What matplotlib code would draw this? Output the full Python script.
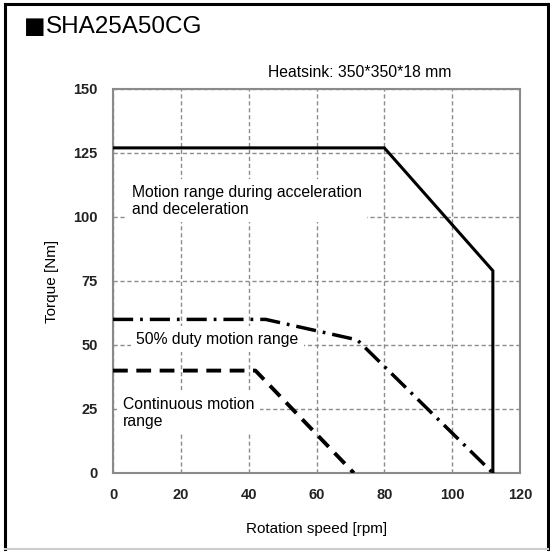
import matplotlib
matplotlib.use("Agg")
import matplotlib.pyplot as plt
from matplotlib.lines import Line2D

plt.rcParams['font.family'] = ['Liberation Sans', 'DejaVu Sans']

# 曲线数据 (rpm, Nm)
accel_speed = [0, 80, 112, 112]
accel_torque = [127, 127, 79, 0]

duty50_speed = [0, 45, 72, 112]
duty50_torque = [60, 60, 52, 0]

cont_speed = [0, 42, 71]
cont_torque = [40, 40, 0]

x_ticks = [0, 20, 40, 60, 80, 100, 120]
y_ticks = [0, 25, 50, 75, 100, 125, 150]

W, H = 550, 552
fig = plt.figure(figsize=(W / 100, H / 100), dpi=100)
ax = fig.add_axes([113 / W, 1 - 473 / H, (520 - 113) / W, (473 - 89) / H])

# 网格
ax.set_xticks(x_ticks)
ax.set_yticks(y_ticks)
ax.grid(True, color='#8c8c8c', linestyle=(0, (3, 2)), linewidth=1.0, zorder=1)
ax.set_axisbelow(True)

# 曲线
ax.plot(accel_speed, accel_torque, color='black', linewidth=2.2,
        solid_joinstyle='miter', zorder=4)
ax.plot(duty50_speed, duty50_torque, color='black', linewidth=2.5,
        linestyle=(0, (5.8, 2.0, 0.8, 2.0)), zorder=4)
ax.plot(cont_speed, cont_torque, color='black', linewidth=2.8,
        linestyle=(0, (3.8, 2.2)), zorder=4)

ax.set_xlim(0, 120)
ax.set_ylim(0, 150)

for s in ax.spines.values():
    s.set_color('#8a8a8a')
    s.set_linewidth(1.5)

ax.tick_params(length=0, pad=11, labelsize=10.5)
for lab in ax.get_xticklabels() + ax.get_yticklabels():
    lab.set_fontweight('bold')
    lab.set_color('#222222')

ax.set_xlabel('Rotation speed [rpm]', fontsize=11, labelpad=14)
ax.set_ylabel('Torque [Nm]', fontsize=11, labelpad=10)

box = dict(facecolor='white', edgecolor='none', pad=4)
ax.text(5.6, 106.3, 'Motion range during acceleration\nand deceleration',
        fontsize=11.3, va='center', ha='left', linespacing=1.15, bbox=box, zorder=3)
ax.text(6.8, 52.3, '50% duty motion range', fontsize=11.3,
        va='center', ha='left', bbox=box, zorder=3)
ax.text(2.9, 23.4, 'Continuous motion\nrange', fontsize=11.3,
        va='center', ha='left', linespacing=1.15, bbox=box, zorder=3)

# 标题
fig.text(24 / W, 1 - 33 / H, '■', fontsize=16.5, va='baseline', ha='left',
         family='DejaVu Sans')
fig.text(46 / W, 1 - 33 / H, 'SHA25A50CG', fontsize=17.5, va='baseline', ha='left')
fig.text(268 / W, 1 - 77 / H, 'Heatsink: 350*350*18 mm', fontsize=11.3,
         va='baseline', ha='left')

# 外框
fx = lambda p: p / W
fy = lambda p: 1 - p / H
fig.add_artist(Line2D([fx(5), fx(5)], [fy(4), fy(549)], color='black', lw=2.2))
fig.add_artist(Line2D([fx(5), fx(548)], [fy(4), fy(4)], color='black', lw=2.2))
fig.add_artist(Line2D([fx(548), fx(548)], [fy(4), fy(549)], color='black', lw=2.2))
fig.add_artist(Line2D([fx(5), fx(548)], [fy(549), fy(549)], color='#cccccc', lw=1.5))

fig.savefig('out.png', dpi=100)
